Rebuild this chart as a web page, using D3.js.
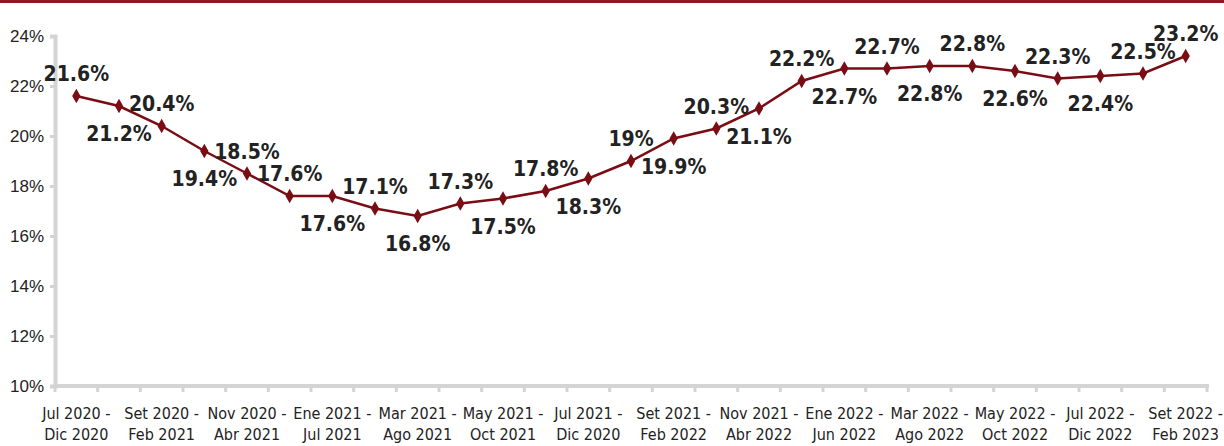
<!DOCTYPE html>
<html>
<head>
<meta charset="utf-8">
<script src="https://cdn.jsdelivr.net/npm/d3@7"></script>
<style>
  body { margin: 0; background: #fff; }
  svg { display: block; font-family: "DejaVu Sans Condensed", "DejaVu Sans", sans-serif; }
  .lb { font-family: "Liberation Sans Narrow", "DejaVu Sans Condensed", sans-serif; }
</style>
</head>
<body>
<svg id="chart" width="1224" height="446"></svg>
<script>
// tasa por periodo movil (%)
const values = [21.6, 21.2, 20.4, 19.4, 18.5, 17.6, 17.6, 17.1, 16.8, 17.3, 17.5, 17.8, 18.3, 19,
  19.9, 20.3, 21.1, 22.2, 22.7, 22.7, 22.8, 22.8, 22.6, 22.3, 22.4, 22.5, 23.2];
// etiquetas visibles del eje x (una de cada dos categorias)
const tickLabels = [
  ["Jul 2020 -", "Dic 2020"], ["Set 2020 -", "Feb 2021"], ["Nov 2020 -", "Abr 2021"],
  ["Ene 2021 -", "Jul 2021"], ["Mar 2021 -", "Ago 2021"], ["May 2021 -", "Oct 2021"],
  ["Jul 2021 -", "Dic 2020"], ["Set 2021 -", "Feb 2022"], ["Nov 2021 -", "Abr 2022"],
  ["Ene 2022 -", "Jun 2022"], ["Mar 2022 -", "Ago 2022"], ["May 2022 -", "Oct 2022"],
  ["Jul 2022 -", "Dic 2022"], ["Set 2022 -", "Feb 2023"]
];
const yTicks = [10, 12, 14, 16, 18, 20, 22, 24];
// donde va cada etiqueta de dato: arriba (1) o abajo (-1)
const labelSide = [1, -1, 1, -1, 1, 1, -1, 1, -1, 1, -1, 1, -1, 1, -1, 1, -1, 1, -1, 1, -1, 1, -1, 1, -1, 1, 1];

const svg = d3.select("#chart");
const mLeft = 55, mRight = 1207, mTop = 36, mBottom = 386;
const red = "#7a0c14";
const grey = "#d4d4d4";

svg.append("rect").attr("x", 0).attr("y", 0).attr("width", 1224).attr("height", 3).attr("fill", "#8b1a22");

const idx = d3.range(values.length);
const x = d3.scaleBand().domain(idx).range([mLeft, mRight]);
const y = d3.scaleLinear().domain([10, 24]).range([mBottom, mTop]);

// eje y
const yAxis = svg.append("g")
  .attr("transform", `translate(${mLeft},0)`)
  .call(d3.axisLeft(y).tickValues(yTicks).tickSize(5).tickPadding(6).tickFormat(d => d + "%"));
yAxis.select(".domain").attr("stroke", grey).attr("stroke-width", 4);
yAxis.selectAll(".tick line").attr("stroke", grey).attr("stroke-width", 3);
yAxis.selectAll("text").attr("font-size", 17).attr("fill", "#222");

// eje x
const xAxis = svg.append("g")
  .attr("transform", `translate(0,${mBottom})`);
xAxis.append("line").attr("x1", mLeft).attr("x2", mRight + 2).attr("stroke", grey).attr("stroke-width", 4);
xAxis.selectAll(".tk").data(idx.concat([values.length]))
  .enter().append("line")
  .attr("x1", d => d < values.length ? x(d) : mRight)
  .attr("x2", d => d < values.length ? x(d) : mRight)
  .attr("y1", 0).attr("y2", 6)
  .attr("stroke", grey).attr("stroke-width", 3);
const xl = xAxis.selectAll(".xl").data(tickLabels)
  .enter().append("text")
  .attr("text-anchor", "middle")
  .attr("font-size", 16)
  .attr("fill", "#222")
  .attr("transform", (d, i) => `translate(${x(i * 2) + x.bandwidth() / 2},0)`);
xl.append("tspan").attr("x", 0).attr("y", 33).text(d => d[0]);
xl.append("tspan").attr("x", 0).attr("y", 54).text(d => d[1]);

// linea
const cx = i => x(i) + x.bandwidth() / 2;
svg.append("path")
  .datum(values)
  .attr("fill", "none")
  .attr("stroke", red)
  .attr("stroke-width", 2.5)
  .attr("d", d3.line().x((d, i) => cx(i)).y(d => y(d)));

svg.selectAll(".mk").data(values)
  .enter().append("path")
  .attr("d", d3.symbol().type(d3.symbolDiamond).size(60))
  .attr("fill", red)
  .attr("transform", (d, i) => `translate(${cx(i)},${y(d)})`);

svg.selectAll(".lb").data(values)
  .enter().append("text")
  .attr("class", "lb")
  .attr("x", (d, i) => cx(i))
  .attr("y", (d, i) => y(d) + (labelSide[i] > 0 ? -15 : 35))
  .attr("text-anchor", "middle")
  .attr("font-size", 21)
  .attr("font-weight", "bold")
  .attr("fill", "#222")
  .text(d => d + "%");
</script>
</body>
</html>
